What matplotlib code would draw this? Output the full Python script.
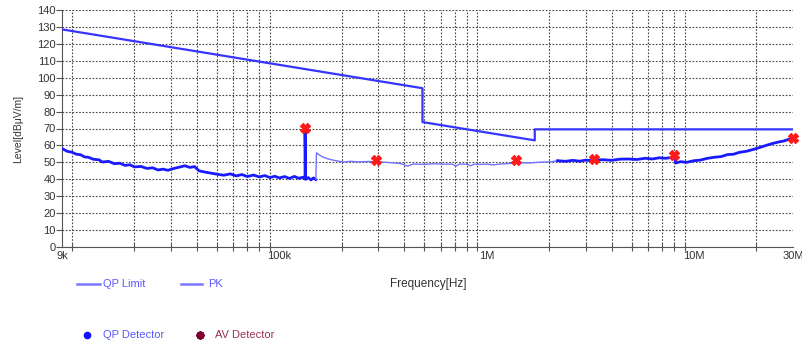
import numpy as np
import matplotlib
matplotlib.use("Agg")
import matplotlib.pyplot as plt
from matplotlib.lines import Line2D
from matplotlib.ticker import FixedLocator, NullFormatter

plt.rcParams["font.family"] = ["Liberation Sans", "DejaVu Sans"]

# ── QP limit (Hz, dBuV/m) ────────────────────────────────────────────────
limit_freq = [9e3, 490e3, 490e3, 1.705e6, 1.705e6, 30e6]
limit_level = [128.5, 93.8, 73.8, 63.0, 69.5, 69.5]

# ── PK trace (kHz, dBuV/m) ────────────────────────────────────────────────
pk_low_khz = [9, 9.5, 10, 10.5, 11, 11.5, 12, 12.7, 13.5, 14, 15, 16, 17, 18, 19,
              20, 21.5, 23, 24.5, 26, 27.5, 29, 31, 33, 35, 37, 39, 41, 44, 47,
              50, 54, 58, 62, 66, 70, 75, 80, 85, 90, 95, 100, 106, 112, 118,
              124, 130, 133, 133, 134, 138, 142, 146, 150]
pk_low_lvl = [58.0, 56.5, 56.0, 54.8, 54.5, 53.2, 53.0, 51.8, 51.5, 50.2, 50.6, 49.2,
              49.5, 48.2, 48.6, 47.3, 47.6, 46.4, 46.8, 45.5, 46.0, 45.3, 46.4, 47.2,
              48.0, 47.0, 47.5, 45.0, 44.2, 43.6, 43.0, 42.4, 43.2, 42.0, 42.8, 41.6,
              42.5, 41.4, 42.2, 41.0, 41.8, 40.8, 41.6, 40.5, 41.7, 40.6, 41.2, 40.2,
              70.4, 40.0, 41.0, 39.6, 40.8, 39.8]

pk_mid_khz = [150, 151, 160, 170, 182, 195, 204, 220, 240, 270, 297, 330, 384, 416,
              440, 500, 560, 620, 680, 710, 740, 800, 837, 870, 920, 1000, 1080,
              1150, 1250, 1350, 1450, 1600, 1750, 1900, 2040, 2200]
pk_mid_lvl = [39.8, 55.6, 53.5, 52.2, 51.3, 50.6, 50.2, 50.6, 50.3, 50.5, 50.3, 50.0,
              49.3, 47.8, 49.0, 48.8, 49.2, 48.9, 49.0, 47.8, 49.0, 48.9, 48.0, 49.0,
              48.8, 49.0, 48.5, 49.0, 49.2, 49.5, 49.8, 49.6, 50.0, 50.2, 50.3, 51.0]

pk_high_khz = [2200, 2400, 2600, 2800, 3000, 3300, 3600, 4000, 4400, 4800, 5300, 5800,
               6300, 6800, 7300, 7800, 8100, 8150, 8600, 9200, 10000, 10700, 11500,
               12500, 13500, 14500, 15500, 16500, 18000, 19500, 21000, 22500, 24000,
               25500, 27000, 28500, 30000]
pk_high_lvl = [51.0, 50.6, 51.2, 50.7, 51.3, 50.9, 51.6, 51.2, 51.9, 52.0, 51.7, 52.4,
               52.0, 52.7, 52.4, 52.9, 52.8, 49.6, 50.4, 50.0, 51.0, 51.3, 52.3, 53.0,
               53.4, 54.6, 54.8, 55.9, 56.6, 57.8, 59.0, 60.2, 61.2, 62.0, 62.6, 63.5,
               63.8]

# ── final measurement markers ────────────────────────────────────────────
mark_freq = [133e3, 291e3, 1.38e6, 3.3e6, 8.0e6, 30e6]
mark_level = [70.4, 51.5, 51.5, 52.0, 54.3, 64.6]

x_labels = {9e3: "9k", 100e3: "100k", 1e6: "1M", 10e6: "10M", 30e6: "30M"}

fig = plt.figure(figsize=(8.03, 3.47), dpi=100)
ax = fig.add_axes([62.5 / 803, 1 - 247 / 347, (793 - 62.5) / 803, 237 / 347])

ax.plot(limit_freq, limit_level, color="#3535ff", linewidth=1.6, zorder=3)
ax.plot(np.array(pk_low_khz) * 1e3, pk_low_lvl, color="#1a1aff", linewidth=2.0, zorder=4)
ax.plot(np.array(pk_mid_khz) * 1e3, pk_mid_lvl, color="#7272ff", linewidth=1.0, zorder=4)
ax.plot(np.array(pk_high_khz) * 1e3, pk_high_lvl, color="#1a1aff", linewidth=2.0, zorder=4)
ax.plot(mark_freq, mark_level, linestyle="none", marker="X", markersize=7,
        color="#ff1a1a", zorder=5, clip_on=False)

ax.set_xscale("log")
ax.set_xlim(9e3, 30e6)
ax.set_ylim(0, 140)

grid_x = [m * 10 ** d for d in range(4, 8) for m in range(1, 10) if 9e3 <= m * 10 ** d <= 30e6]
ax.xaxis.set_major_locator(FixedLocator(list(x_labels.keys())))
ax.set_xticklabels(list(x_labels.values()))
ax.xaxis.set_minor_locator(FixedLocator(grid_x))
ax.xaxis.set_minor_formatter(NullFormatter())
ax.set_yticks(range(0, 141, 10))

ax.grid(which="minor", axis="x", color="#444444", linestyle=(0, (1.5, 1.5)), linewidth=0.8)
ax.grid(which="major", axis="y", color="#444444", linestyle=(0, (1.5, 1.5)), linewidth=0.8)
ax.tick_params(axis="x", which="both", direction="inout", length=6, width=0.8,
               color="#555555", labelsize=8, labelcolor="#333333", pad=3)
ax.tick_params(axis="x", which="major", length=0)
ax.tick_params(axis="y", direction="out", length=4, width=0.8, color="#555555",
               labelsize=8, labelcolor="#333333", pad=1)
for side in ["top", "right"]:
    ax.spines[side].set_visible(False)
for side in ["left", "bottom"]:
    ax.spines[side].set_color("#555555")
    ax.spines[side].set_linewidth(0.8)

ax.set_ylabel("Level[dBμV/m]", fontsize=7.5, color="#333333", labelpad=10)

# ── legend drawn below the axes, as in the reference ─────────────────────
def fx(px):
    return px / 803


def fy(py):
    return 1 - py / 347


fig.add_artist(Line2D([fx(77), fx(100)], [fy(284), fy(284)], color="#7a7aff", linewidth=1.8))
fig.text(fx(103), fy(284), "QP Limit", fontsize=8, color="#5a5aff", va="center")
fig.add_artist(Line2D([fx(181), fx(202)], [fy(284), fy(284)], color="#7a7aff", linewidth=1.8))
fig.text(fx(208), fy(284), "PK", fontsize=8, color="#5a5aff", va="center")
fig.text(fx(428), fy(284), "Frequency[Hz]", fontsize=8.5, color="#333333",
         ha="center", va="center")

fig.add_artist(Line2D([fx(87)], [fy(335)], marker="o", markersize=4.5,
                      color="#1010ff", linestyle="none"))
fig.text(fx(103), fy(335), "QP Detector", fontsize=8, color="#5a5aff", va="center")
fig.add_artist(Line2D([fx(200)], [fy(335)], marker=(8, 2, 0), markersize=6,
                      color="#800033", markeredgewidth=1.5, linestyle="none"))
fig.text(fx(215), fy(335), "AV Detector", fontsize=8, color="#993355", va="center")

fig.savefig("out.png", dpi=100)
